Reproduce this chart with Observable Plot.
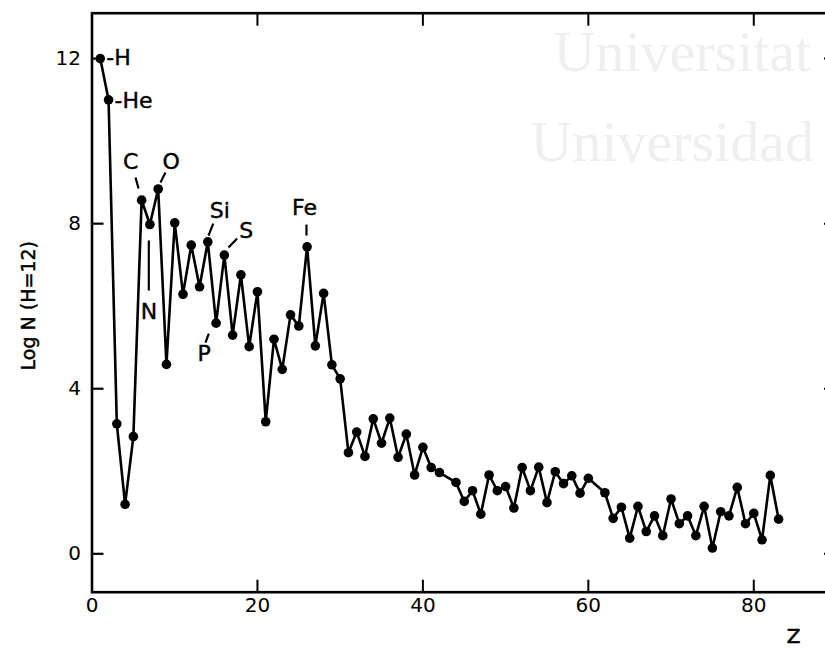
<!DOCTYPE html>
<html>
<head>
<meta charset="utf-8">
<script src="https://cdn.jsdelivr.net/npm/d3@7"></script>
<script src="https://cdn.jsdelivr.net/npm/@observablehq/plot@0.6"></script>
<style>
  html, body { margin: 0; padding: 0; background: #fff; overflow: hidden; }
  #chart { width: 825px; height: 651px; overflow: hidden; }
  #chart svg { max-width: none !important; }
</style>
</head>
<body>
<div id="chart"></div>
<script>
// ---- Data ----
const atomicNumber = [
  1, 2, 3, 4, 5, 6, 7, 8, 9, 10,
  11, 12, 13, 14, 15, 16, 17, 18, 19, 20,
  21, 22, 23, 24, 25, 26, 27, 28, 29, 30,
  31, 32, 33, 34, 35, 36, 37, 38, 39, 40,
  41, 42, 44, 45, 46, 47, 48, 49, 50,
  51, 52, 53, 54, 55, 56, 57, 58, 59, 60,
  62, 63, 64, 65, 66, 67, 68, 69, 70,
  71, 72, 73, 74, 75, 76, 77, 78, 79, 80,
  81, 82, 83
];
const logAbundance = [
  12.0, 11.0, 3.15, 1.2, 2.84, 8.57, 7.98, 8.84, 4.59, 8.02,
  6.29, 7.48, 6.47, 7.56, 5.59, 7.24, 5.30, 6.76, 5.02, 6.35,
  3.20, 5.20, 4.47, 5.79, 5.52, 7.44, 5.04, 6.31, 4.58, 4.24,
  2.45, 2.95, 2.36, 3.27, 2.68, 3.29, 2.34, 2.90, 1.91, 2.58,
  2.09, 1.97, 1.73, 1.27, 1.53, 0.96, 1.91, 1.53, 1.63,
  1.11, 2.09, 1.53, 2.10, 1.24, 1.99, 1.70, 1.89, 1.47, 1.83,
  1.48, 0.86, 1.13, 0.38, 1.15, 0.54, 0.92, 0.44, 1.33,
  0.73, 0.92, 0.44, 1.15, 0.14, 1.02, 0.92, 1.61, 0.73, 0.98,
  0.34, 1.90, 0.84
];
const labelZ = [1, 2, 6, 7, 8, 14, 15, 16, 26];
const labelText = ["-H", "-He", "C", "N", "O", "Si", "P", "S", "Fe"];
const xTicks = [0, 20, 40, 60, 80];
const yTicks = [0, 4, 8, 12];
const xTitle = "Z";
const yTitle = "Log N (H=12)";
const watermarkText = ["Universitat", "Universidad"];

// ---- Layout / style (not data) ----
const W = 836, H = 651;
const ML = 91.5, MR = 0, MT = 12.7, MB = 59.3;
const xDomain = [0, 90];
const yDomain = [-0.93, 13.1];
const kx = (W - ML - MR) / (xDomain[1] - xDomain[0]); // px per Z
const ky = (H - MT - MB) / (yDomain[1] - yDomain[0]); // px per dex
const FONT = "'DejaVu Sans', sans-serif";
const INK = {fill: "black", stroke: "black", strokeWidth: 0.55};

// label placement: text offset and leader-line offsets (pixels, relative to point)
const labelLayout = {
  "-H":  {dx: 6,   dy: -1,  anchor: "start"},
  "-He": {dx: 6,   dy: 1,   anchor: "start"},
  "C":   {dx: -11, dy: -38, anchor: "middle", lead: [-6.1, -22.6, -3.1, -11.6]},
  "O":   {dx: 13,  dy: -27, anchor: "middle", lead: [7.3, -16.5, 2.3, -6.5]},
  "N":   {dx: -1,  dy: 87,  anchor: "middle", lead: [-1.1, 16, -1.1, 66]},
  "Si":  {dx: 12,  dy: -31, anchor: "middle", lead: [5.4, -18.3, 0.7, -6.3]},
  "S":   {dx: 22,  dy: -24, anchor: "middle", lead: [12.8, -16.5, 4.1, -7.5]},
  "P":   {dx: -12, dy: 31,  anchor: "middle", lead: [-7.3, 10.4, -10.6, 19.4]},
  "Fe":  {dx: -2.5,dy: -39, anchor: "middle", lead: [-0.6, -22.2, -0.6, -11.2]}
};

const data = atomicNumber.map((z, i) => ({Z: z, v: logAbundance[i]}));
const byZ = new Map(data.map(d => [d.Z, d]));
const labels = labelZ.map((z, i) => ({Z: z, v: byZ.get(z).v, text: labelText[i]}));

const labelMarks = labels.map(d => {
  const L = labelLayout[d.text];
  return Plot.text([d], {
    x: "Z", y: "v", text: "text", dx: L.dx, dy: L.dy,
    textAnchor: L.anchor, lineAnchor: "middle",
    fontSize: 22, fontFamily: FONT, ...INK, strokeWidth: 0.4
  });
});
const leaders = labels.filter(d => labelLayout[d.text].lead).map(d => {
  const [a, b, c, e] = labelLayout[d.text].lead;
  return {x1: d.Z + a / kx, y1: d.v - b / ky, x2: d.Z + c / kx, y2: d.v - e / ky};
});

const tickLen = 12;
const innerX = xTicks.filter(t => t > xDomain[0]);
const innerY = yTicks;

const plot = Plot.plot({
  width: W, height: H,
  marginLeft: ML, marginRight: MR, marginTop: MT, marginBottom: MB,
  x: {domain: xDomain, label: null},
  y: {domain: yDomain, label: null},
  style: {fontFamily: FONT, background: "white", color: "black", overflow: "visible", maxWidth: "none"},
  marks: [
    // faint watermark (sized so each word stays inside the picture)
    Plot.text([watermarkText[0]], {frameAnchor: "top-left", dx: 553 - ML, dy: 70 - MT, text: d => d,
      textAnchor: "start", lineAnchor: "bottom", fontSize: 58, fill: "#efefef", fontFamily: "'Liberation Serif', serif"}),
    Plot.text([watermarkText[1]], {frameAnchor: "top-left", dx: 530 - ML, dy: 160 - MT, text: d => d,
      textAnchor: "start", lineAnchor: "bottom", fontSize: 58, fill: "#efefef", fontFamily: "'Liberation Serif', serif"}),
    Plot.frame({stroke: "black", strokeWidth: 2.6}),
    // inward ticks
    Plot.ruleX(innerX, {x: d => d, y1: yDomain[0], y2: yDomain[0] + tickLen / ky, stroke: "black", strokeWidth: 2}),
    Plot.ruleX(innerX, {x: d => d, y1: yDomain[1], y2: yDomain[1] - 13 / ky, stroke: "black", strokeWidth: 2}),
    Plot.ruleY(innerY, {y: d => d, x1: xDomain[0], x2: xDomain[0] + tickLen / kx, stroke: "black", strokeWidth: 2.2}),
    Plot.ruleY(innerY, {y: d => d, x1: xDomain[1], x2: xDomain[1] - tickLen / kx, stroke: "black", strokeWidth: 2}),
    Plot.axisX({ticks: xTicks, anchor: "bottom", tickSize: 0, tickPadding: 6, fontSize: 20, label: null, ...INK}),
    Plot.axisY({ticks: yTicks, anchor: "left", tickSize: 0, tickPadding: 11, fontSize: 20, label: null, ...INK}),
    Plot.text([yTitle], {frameAnchor: "left", dx: 28 - ML, dy: 3, rotate: -90, text: d => d,
      textAnchor: "middle", lineAnchor: "middle", fontSize: 19, fontFamily: FONT, ...INK, strokeWidth: 0.45}),
    Plot.text([xTitle], {frameAnchor: "bottom-left", dx: 793 - ML, dy: 636 - (H - MB), text: d => d,
      textAnchor: "middle", lineAnchor: "middle", fontSize: 20, fontFamily: FONT, ...INK}),
    // data
    Plot.line(data, {x: "Z", y: "v", stroke: "black", strokeWidth: 2.6, curve: "linear"}),
    Plot.dot(data, {x: "Z", y: "v", r: 4.8, fill: "black", stroke: "none"}),
    Plot.link(leaders, {x1: "x1", y1: "y1", x2: "x2", y2: "y2", stroke: "black", strokeWidth: 2.2}),
    ...labelMarks
  ]
});
plot.style.maxWidth = "none";

document.getElementById("chart").appendChild(plot);
</script>
</body>
</html>
